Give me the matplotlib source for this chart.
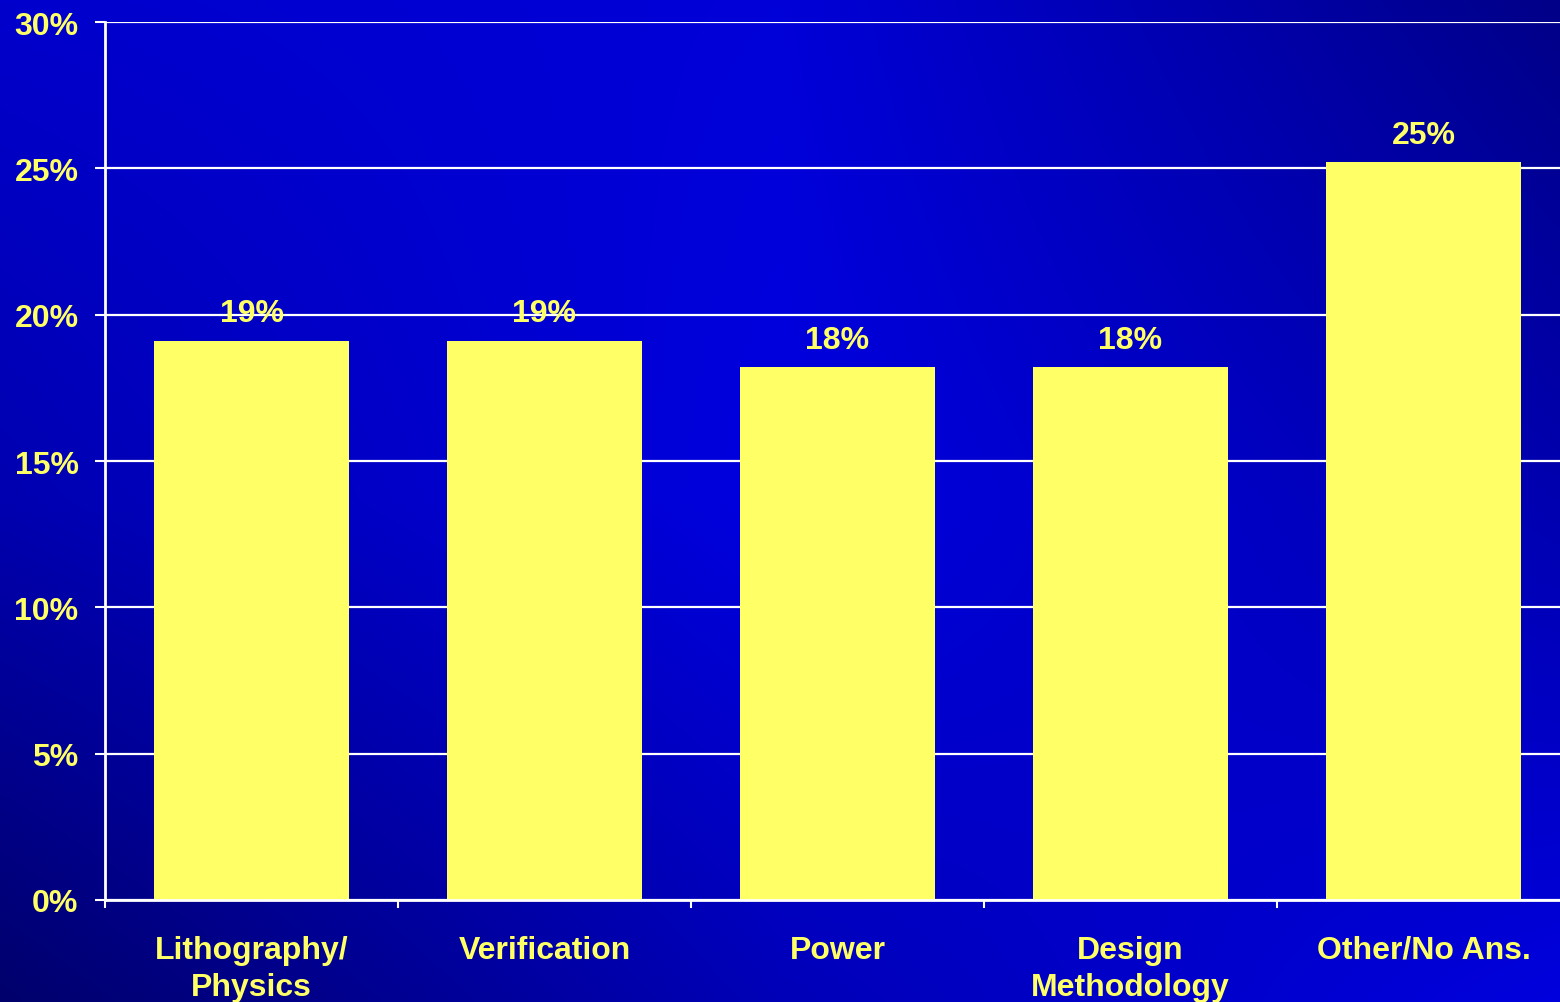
import numpy as np
import matplotlib
matplotlib.use("Agg")
import matplotlib.pyplot as plt

categories = ["Lithography/\nPhysics", "Verification", "Power", "Design\nMethodology", "Other/No Ans."]
values = [19.1, 19.1, 18.2, 18.2, 25.2]
value_labels = ["19%", "19%", "18%", "18%", "25%"]
yticks = [0, 5, 10, 15, 20, 25, 30]
ytick_labels = ["0%", "5%", "10%", "15%", "20%", "25%", "30%"]

W, H = 1560, 1003
fig = plt.figure(figsize=(W / 100, H / 100), dpi=100)
plt.rcParams['font.family'] = ['Liberation Sans', 'DejaVu Sans']

# background gradient
bg = fig.add_axes([0, 0, 1, 1])
bg.set_axis_off()
blue = np.array([[0xCC, 0xD8, 0x88],
                 [0xB0, 0xE0, 0xB0],
                 [0x6C, 0xB8, 0xDD]], dtype=float) / 255.0
ny, nx = 200, 300
yy = np.linspace(0, 2, ny)
xx = np.linspace(0, 2, nx)
X, Y = np.meshgrid(xx, yy)
x0 = np.clip(np.floor(X).astype(int), 0, 1)
y0 = np.clip(np.floor(Y).astype(int), 0, 1)
fx = X - x0
fy = Y - y0
B = (blue[y0, x0] * (1 - fx) * (1 - fy) + blue[y0, x0 + 1] * fx * (1 - fy)
     + blue[y0 + 1, x0] * (1 - fx) * fy + blue[y0 + 1, x0 + 1] * fx * fy)
img = np.zeros((ny, nx, 3))
img[..., 2] = B
bg.imshow(img, aspect='auto', extent=[0, 1, 0, 1], interpolation='bilinear')
bg.set_xlim(0, 1)
bg.set_ylim(0, 1)

left = 105 / W
right = 1570 / W
bottom = (H - 901) / H
top = (H - 23) / H
ax = fig.add_axes([left, bottom, right - left, top - bottom])
ax.set_facecolor('none')

yellow = '#FFFF66'
fs = 23
x = np.arange(len(categories))
ax.bar(x, values, width=0.665, color=yellow, zorder=3)

for xi, v, lab in zip(x, values, value_labels):
    ax.annotate(lab, (xi, v), xytext=(0, 20), textcoords='offset points',
                ha='center', va='center', color=yellow, fontsize=fs,
                fontweight='bold', zorder=4)

ax.set_xlim(-0.5, len(categories) - 0.5)
ax.set_ylim(0, 30)
ax.set_yticks(yticks)
ax.set_yticklabels(ytick_labels)
ax.set_xticks(x)
ax.set_xticklabels(categories, linespacing=1.3)
ax.set_xticks(np.arange(-0.5, len(categories), 1.0), minor=True)

ax.tick_params(axis='y', colors='white', length=7, width=1.5, pad=12,
               labelcolor=yellow, labelsize=fs, direction='out')
ax.tick_params(axis='x', which='major', length=0, pad=25,
               labelcolor=yellow, labelsize=fs)
ax.tick_params(axis='x', which='minor', colors='white', length=6, width=1.5,
               direction='out')
for lab in ax.get_xticklabels() + ax.get_yticklabels():
    lab.set_fontweight('bold')

ax.yaxis.grid(True, color='white', linewidth=1.6)
ax.set_axisbelow(True)
for s in ['top', 'right']:
    ax.spines[s].set_visible(False)
for s in ['left', 'bottom']:
    ax.spines[s].set_color('white')
    ax.spines[s].set_linewidth(2)
ax.spines['bottom'].set_zorder(5)

fig.savefig('out.png', dpi=100)
